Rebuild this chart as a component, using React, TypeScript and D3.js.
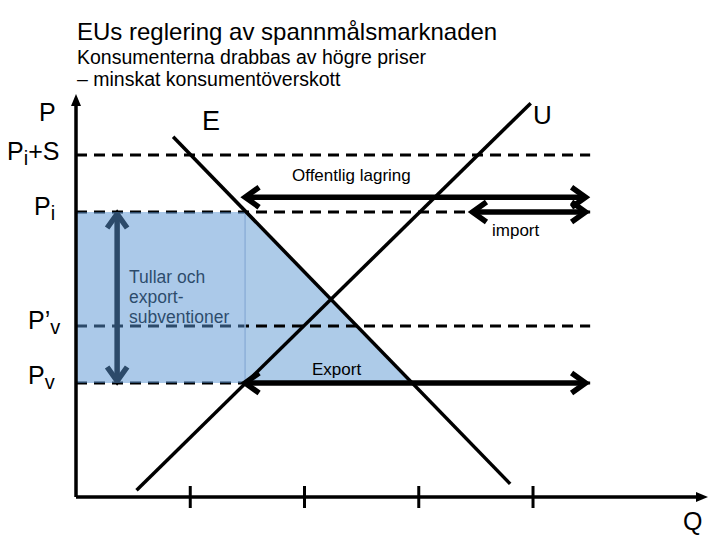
import React from 'react';
import * as d3 from 'd3';

// Chart values
const titleLines = ['EUs reglering av spannmålsmarknaden'];
const subtitleLines = ['Konsumenterna drabbas av högre priser', '– minskat konsumentöverskott'];

const qTicks = [1, 2, 3, 4];

// price levels (dashed lines)
const priceLevels = [
  { label: 'P', sub: 'i', suffix: '+S', p: 6 },
  { label: 'P', sub: 'i', suffix: '', p: 5 },
  { label: 'P’', sub: 'v', suffix: '', p: 3 },
  { label: 'P', sub: 'v', suffix: '', p: 2 },
];
const dashEndQ = 4.5;

// demand (E) and supply (U) lines, [q, p]
const demand: [number, number][] = [[0.85, 6.32], [3.8, 0.23]];
const supply: [number, number][] = [[0.53, 0.12], [3.98, 6.91]];

// shaded areas
const tariffRect: [number, number][] = [[0, 5], [1.48, 5], [1.48, 2], [0, 2]];
const surplusTri: [number, number][] = [[1.48, 5], [2.94, 2], [1.48, 2]];

// double headed arrows
const hArrows = [
  { name: 'Offentlig lagring', q0: 1.48, q1: 4.46, p: 5.26 },
  { name: 'import', q0: 3.47, q1: 4.46, p: 5.0 },
  { name: 'Export', q0: 1.48, q1: 4.46, p: 2.0 },
];
const vArrow = { q: 0.36, p0: 5, p1: 2 };

const font = '"Liberation Sans", Arial, sans-serif';

const App = () => {
  const width = 720;
  const height = 540;

  const x = d3.scaleLinear().domain([0, 5.5]).range([76, 704.4]);
  const y = d3.scaleLinear().domain([0, 7]).range([497, 98]);

  const line = d3.line<[number, number]>()
    .x(d => x(d[0]))
    .y(d => y(d[1]));

  // chevron head at (tx,ty) pointing in direction (dx,dy)
  const head = (tx: number, ty: number, dx: number, dy: number) => {
    const len = 14, spread = 10;
    const px = -dy, py = dx;
    const bx = tx - dx * len, by = ty - dy * len;
    return `M${bx + px * spread},${by + py * spread}L${tx},${ty}L${bx - px * spread},${by - py * spread}`;
  };

  const x0 = x(0);
  const y0 = y(0);

  return (
    <svg width={width} height={height} style={{ position: 'absolute', left: 0, top: 0 }}
      fontFamily={font}>
      <rect width={width} height={height} fill="#fff" />

      {/* titles */}
      {titleLines.map((t, i) => (
        <text key={t} x={77} y={40 + i * 24} fontSize={24}>{t}</text>
      ))}
      {subtitleLines.map((t, i) => (
        <text key={t} x={77} y={64 + i * 22} fontSize={19.5}>{t}</text>
      ))}

      {/* surplus triangle (under the dashes) */}
      <path d={line(surplusTri) + 'Z'} fill="#ADCBE8" />

      {/* dashed price levels */}
      {priceLevels.map(l => (
        <line key={l.label + l.sub + l.suffix} x1={x0} x2={x(dashEndQ)} y1={y(l.p)} y2={y(l.p)}
          stroke="#000" strokeWidth={3} strokeDasharray="11,7" />
      ))}

      {/* vertical arrow + text sit under the translucent rectangle */}
      <line x1={x(vArrow.q)} x2={x(vArrow.q)} y1={y(vArrow.p0) + 3} y2={y(vArrow.p1) - 3}
        stroke="#000" strokeWidth={5.5} />
      <path d={head(x(vArrow.q), y(vArrow.p0) + 2, 0, -1)} fill="none" stroke="#000" strokeWidth={5.5} />
      <path d={head(x(vArrow.q), y(vArrow.p1) - 2, 0, 1)} fill="none" stroke="#000" strokeWidth={5.5} />
      {['Tullar och', 'export-', 'subventioner'].map((t, i) => (
        <text key={t} x={129} y={283 + i * 20} fontSize={17.5}>{t}</text>
      ))}

      <path d={line(tariffRect) + 'Z'} fill="#5894D4" fillOpacity={0.5} />
      <line x1={x(1.48)} x2={x(1.48)} y1={y(5)} y2={y(2)} stroke="#8DB0D8" strokeWidth={1.5} />

      {/* demand and supply */}
      <path d={line(demand) || ''} fill="none" stroke="#000" strokeWidth={3.5} />
      <path d={line(supply) || ''} fill="none" stroke="#000" strokeWidth={3.5} />
      <text x={202} y={130} fontSize={27}>E</text>
      <text x={533} y={124} fontSize={26}>U</text>

      {/* horizontal arrows */}
      {hArrows.map(a => {
        const yy = y(a.p);
        return (
          <g key={a.name}>
            <line x1={x(a.q0) + 2} x2={x(a.q1) - 2} y1={yy} y2={yy} stroke="#000" strokeWidth={5.5} />
            <path d={head(x(a.q0), yy, -1, 0)} fill="none" stroke="#000" strokeWidth={5.5} />
            <path d={head(x(a.q1), yy, 1, 0)} fill="none" stroke="#000" strokeWidth={5.5} />
          </g>
        );
      })}
      <text x={292} y={181} fontSize={17}>Offentlig lagring</text>
      <text x={492} y={236} fontSize={17}>import</text>
      <text x={312} y={375} fontSize={17}>Export</text>

      {/* axes */}
      <line x1={x0} x2={x0} y1={y0} y2={104} stroke="#000" strokeWidth={3.5} />
      <path d={`M${x0 - 5},${106}L${x0},${94}L${x0 + 5},${106}Z`} fill="#000" />
      <line x1={x0} x2={698} y1={y0} y2={y0} stroke="#000" strokeWidth={3.5} />
      <path d={`M${696},${y0 - 5}L${708},${y0}L${696},${y0 + 5}Z`} fill="#000" />
      {qTicks.map(q => (
        <line key={q} x1={x(q)} x2={x(q)} y1={y0 - 11} y2={y0 + 11} stroke="#000" strokeWidth={3} />
      ))}

      {/* axis labels */}
      <text x={39} y={121} fontSize={25}>P</text>
      {priceLevels.map((l, i) => {
        const lx = [7, 34, 28, 28][i];
        const by = y(l.p) + [5, 3, 3, 1][i];
        return (
          <text key={'lab' + i} x={lx} y={by} fontSize={25}>
            {l.label}
            <tspan fontSize={20} dy={5}>{l.sub}</tspan>
            {l.suffix && <tspan dy={-5}>{l.suffix}</tspan>}
          </text>
        );
      })}
      <text x={683} y={530} fontSize={25}>Q</text>
    </svg>
  );
};

export default App;
